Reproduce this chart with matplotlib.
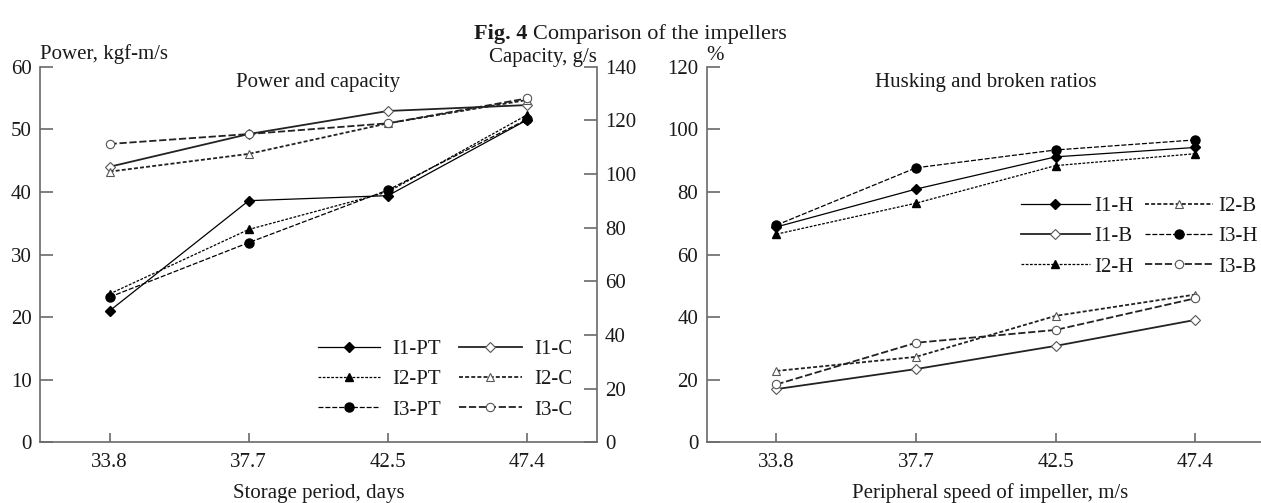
import matplotlib
matplotlib.use('Agg')
import matplotlib.pyplot as plt

plt.rcParams['font.family'] = ['Liberation Serif', 'DejaVu Serif']
plt.rcParams['font.size'] = 15

x_labels = ['33.8', '37.7', '42.5', '47.4']

# Power (kgf-m/s), left axis of left panel
i1_pt = [21.0, 38.6, 39.4, 51.5]
i2_pt = [23.7, 34.0, 40.0, 52.3]
i3_pt = [23.2, 31.9, 40.3, 51.6]
# Capacity (g/s), right axis of left panel
i1_c = [102.7, 114.9, 123.5, 125.7]
i2_c = [100.9, 107.5, 118.9, 127.6]
i3_c = [111.2, 114.9, 118.9, 128.2]
# Husking ratios (%)
i1_h = [68.8, 80.9, 91.2, 94.2]
i2_h = [66.5, 76.4, 88.4, 92.2]
i3_h = [69.4, 87.7, 93.4, 96.6]
# Broken ratios (%)
i1_b = [17.0, 23.4, 30.8, 39.1]
i2_b = [22.8, 27.3, 40.4, 47.2]
i3_b = [18.5, 31.8, 35.9, 46.0]

W, H = 1261, 503
fig = plt.figure(figsize=(W / 100, H / 100), dpi=100)

GRAY = '#6a6a6a'
TXT = '#1a1a1a'
LS1 = '-'
LS2 = (0, (2.2, 1.2))
LS3 = (0, (4, 1.5))

bottom_px, top_px = 442.3, 66.7
ax1 = fig.add_axes([40 / W, 1 - bottom_px / H, 556.7 / W, (bottom_px - top_px) / H])
ax2 = ax1.twinx()
ax3 = fig.add_axes([706.7 / W, 1 - bottom_px / H, 558.3 / W, (bottom_px - top_px) / H])

xs = list(range(len(x_labels)))

def filled(ax, y, ls, marker, ms, label):
    return ax.plot(xs, y, linestyle=ls, color='black', lw=0.9, marker=marker,
                   ms=ms, mfc='black', mec='black', label=label)[0]

def opened(ax, y, ls, marker, ms, label):
    return ax.plot(xs, y, linestyle=ls, color='#222222', lw=1.3, marker=marker,
                   ms=ms, mfc='white', mec='#555555', mew=0.8, label=label)[0]

h1 = filled(ax1, i1_pt, LS1, 'D', 4.8, 'I1-PT')
h2 = filled(ax1, i2_pt, LS2, '^', 6, 'I2-PT')
h3 = filled(ax1, i3_pt, LS3, 'o', 6.5, 'I3-PT')
h4 = opened(ax2, i1_c, LS1, 'D', 5, 'I1-C')
h5 = opened(ax2, i2_c, LS2, '^', 6, 'I2-C')
h6 = opened(ax2, i3_c, LS3, 'o', 6, 'I3-C')

g1 = filled(ax3, i1_h, LS1, 'D', 4.8, 'I1-H')
g2 = opened(ax3, i1_b, LS1, 'D', 5, 'I1-B')
g3 = filled(ax3, i2_h, LS2, '^', 6, 'I2-H')
g4 = opened(ax3, i2_b, LS2, '^', 6, 'I2-B')
g5 = filled(ax3, i3_h, LS3, 'o', 6.5, 'I3-H')
g6 = opened(ax3, i3_b, LS3, 'o', 6, 'I3-B')

ax1.set_xlim(-0.5, 3.5)
ax1.set_ylim(0, 60)
ax1.set_yticks(range(0, 61, 10))
ax2.set_ylim(0, 140)
ax2.set_yticks(range(0, 141, 20))
ax3.set_xlim(-0.5, 3.5)
ax3.set_ylim(0, 120)
ax3.set_yticks(range(0, 121, 20))

for ax in (ax1, ax3):
    ax.set_xticks(xs)
    ax.set_xticklabels(x_labels)

for ax in (ax1, ax2, ax3):
    for s in ax.spines.values():
        s.set_color(GRAY)
        s.set_linewidth(1.2)
    ax.spines['top'].set_visible(False)
    ax.tick_params(axis='y', direction='in', length=9.5, width=1.2, color=GRAY,
                   pad=6, labelsize=15, labelcolor=TXT)
    ax.tick_params(axis='x', direction='in', length=6.5, width=1.2, color=GRAY,
                   pad=8, labelsize=15, labelcolor=TXT)
ax1.spines['right'].set_visible(False)
ax3.spines['right'].set_visible(False)
ax2.spines['left'].set_visible(False)
ax2.spines['bottom'].set_visible(False)

# axis labels and panel titles
ax1.text(0, 1.0197, 'Power, kgf-m/s', transform=ax1.transAxes, ha='left', va='baseline', color=TXT)
ax1.text(1.0, 1.0133, 'Capacity, g/s', transform=ax1.transAxes, ha='right', va='baseline', color=TXT)
ax3.text(0, 1.0176, '%', transform=ax3.transAxes, ha='left', va='baseline', color=TXT)
ax1.text(0.5, 0.946, 'Power and capacity', transform=ax1.transAxes, ha='center', va='baseline', color=TXT)
ax3.text(0.5, 0.946, 'Husking and broken ratios', transform=ax3.transAxes, ha='center', va='baseline', color=TXT)
ax1.text(0.5, -0.148, 'Storage period, days', transform=ax1.transAxes, ha='center', va='baseline', color=TXT)
ax3.text((990 - 706.7) / 558.3, -0.148, 'Peripheral speed of impeller, m/s', transform=ax3.transAxes,
         ha='center', va='baseline', color=TXT)

leg1 = ax2.legend([h1, h2, h3, h4, h5, h6], ['I1-PT', 'I2-PT', 'I3-PT', 'I1-C', 'I2-C', 'I3-C'],
                  ncol=2, loc='center', bbox_to_anchor=(0.7275, 0.167), frameon=False,
                  borderpad=0, handlelength=3.0, handletextpad=0.6, columnspacing=0.85,
                  labelspacing=0.52, fontsize=15)
leg2 = ax3.legend([g1, g2, g3, g4, g5, g6], ['I1-H', 'I1-B', 'I2-H', 'I2-B', 'I3-H', 'I3-B'],
                  ncol=2, loc='center', bbox_to_anchor=(0.775, 0.548), frameon=False,
                  borderpad=0, handlelength=3.3, handletextpad=0.25, columnspacing=0.5,
                  labelspacing=0.52, fontsize=15)
for leg in (leg1, leg2):
    for t in leg.get_texts():
        t.set_color(TXT)

# figure title: bold "Fig. 4" followed by regular text, centred as a whole
fig.canvas.draw()
r = fig.canvas.get_renderer()
ty = 1 - 39 / H
t1 = fig.text(0, ty, 'Fig. 4', weight='bold', fontsize=16, va='baseline', color=TXT)
t2 = fig.text(0, ty, 'Comparison of the impellers', fontsize=16, va='baseline', color=TXT)
w1 = t1.get_window_extent(r).width
w2 = t2.get_window_extent(r).width
gap = 6
x0 = (W - (w1 + gap + w2)) / 2
t1.set_x(x0 / W)
t2.set_x((x0 + w1 + gap) / W)

fig.savefig('out.png', dpi=100)
